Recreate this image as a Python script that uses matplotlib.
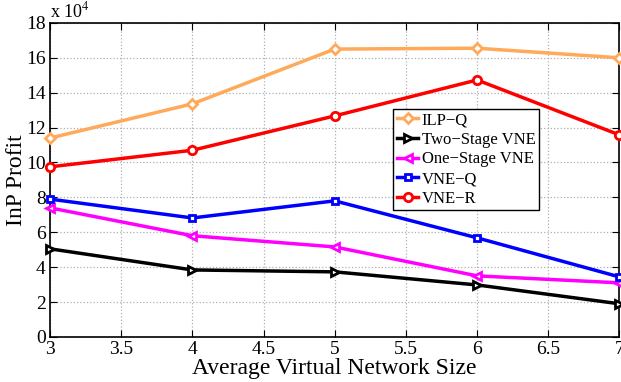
import numpy as np
import matplotlib
matplotlib.use('Agg')
import matplotlib.pyplot as plt

plt.rcParams['font.family'] = ['Liberation Serif', 'DejaVu Serif']
plt.rcParams['mathtext.fontset'] = 'stix'

vn_size = [3, 4, 5, 6, 7]
ilp_q = [11.4, 13.36, 16.5, 16.55, 16.0]
two_stage = [5.05, 3.84, 3.73, 2.98, 1.9]
one_stage = [7.4, 5.8, 5.16, 3.5, 3.1]
vne_q = [7.9, 6.82, 7.8, 5.68, 3.44]
vne_r = [9.75, 10.7, 12.67, 14.73, 11.58]

fig = plt.figure(figsize=(6.21, 3.82), dpi=100)
ax = fig.add_axes([0.0805, 0.118, 0.917, 0.822])

kw = dict(lw=2.5, mfc='white', mew=2, clip_on=False, zorder=3)
ax.plot(vn_size, ilp_q, '-D', color='#FFAA5A', ms=5, label='ILP\u2212Q', **kw)
ax.plot(vn_size, two_stage, '->', color='black', ms=6, label='Two\u2212Stage VNE', **kw)
ax.plot(vn_size, one_stage, '-<', color='magenta', ms=6, label='One\u2212Stage VNE', **kw)
ax.plot(vn_size, vne_q, '-s', color='blue', ms=5, label='VNE\u2212Q', **kw)
ax.plot(vn_size, vne_r, '-o', color='red', ms=6, label='VNE\u2212R', **kw)

ax.set_xlim(3, 7)
ax.set_ylim(0, 18)
ax.set_xticks(np.arange(3, 7.01, 0.5))
ax.set_xticklabels(['3', '3.5', '4', '4.5', '5', '5.5', '6', '6.5', '7'])
ax.set_yticks(np.arange(0, 18.1, 2))
ax.grid(True, ls=':', color='#b0b0b0', lw=0.9)
ax.tick_params(direction='in', labelsize=14, length=5, top=True, right=True, pad=3)
for s in ax.spines.values():
    s.set_linewidth(1.2)

ax.set_xlabel('Average Virtual Network Size', fontsize=17, labelpad=0)
ax.set_ylabel('InP Profit', fontsize=17, labelpad=-1)
ax.text(0.0, 1.005, r'x 10$^4$', transform=ax.transAxes, fontsize=13, va='bottom', ha='left')

leg = ax.legend(loc='lower left', bbox_to_anchor=(0.603, 0.404), fontsize=12, frameon=True,
                fancybox=False, edgecolor='black', framealpha=1, borderpad=0.2,
                labelspacing=0.22, handlelength=1.3, handletextpad=0.2, borderaxespad=0)
leg.get_frame().set_linewidth(1)

fig.savefig('out.png', dpi=100)
